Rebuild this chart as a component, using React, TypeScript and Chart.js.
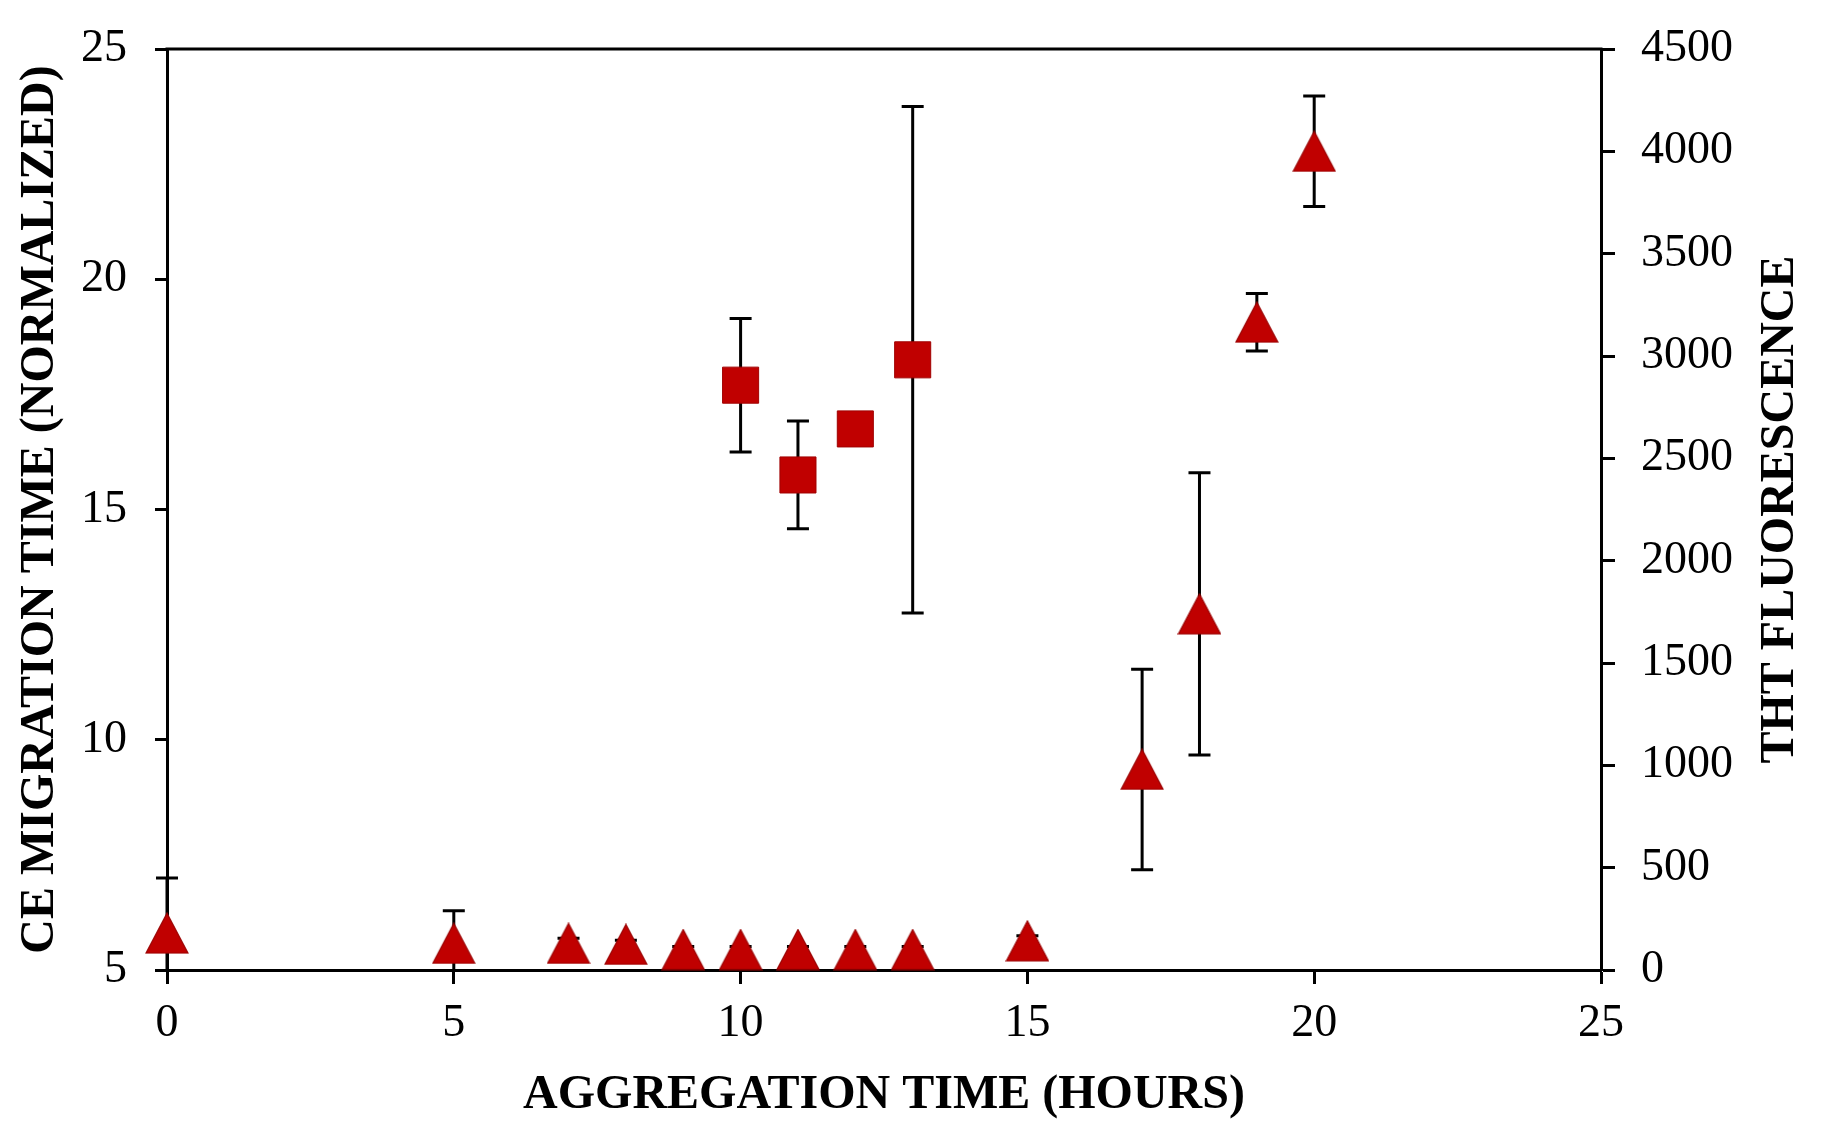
import { useEffect, useRef } from "react";
import { Chart, registerables } from "chart.js";

Chart.register(...registerables);

// CE migration time (left axis), squares
const ceHours = [10, 11, 12, 13];
const ceTime = [17.7, 15.75, 16.75, 18.25];
const ceErr = [1.45, 1.17, 0.3, 5.5];

// ThT fluorescence (right axis), triangles
const thtHours = [0, 5, 7, 8, 9, 10, 11, 12, 13, 15, 17, 18, 19, 20];
const thtFluor = [180, 130, 130, 125, 100, 100, 100, 100, 100, 142, 980, 1740, 3165, 4000];
const thtErr = [270, 160, 25, 20, 15, 15, 15, 15, 15, 25, 490, 690, 140, 270];

const xTitle = "AGGREGATION TIME (HOURS)";
const yTitle = "CE MIGRATION TIME (NORMALIZED)";
const y1Title = "THT FLUORESCENCE";

const RED = "#C00000";
const FAMILY = "'Liberation Serif', 'Times New Roman', serif";
const tickFont = { family: FAMILY, size: 46 };
const titleFont = { family: FAMILY, size: 48, weight: "bold" as const };

function makeTriangle() {
  const c = document.createElement("canvas");
  c.width = 44;
  c.height = 42;
  const g = c.getContext("2d")!;
  g.beginPath();
  g.moveTo(22, 1);
  g.lineTo(43, 41);
  g.lineTo(1, 41);
  g.closePath();
  g.fillStyle = RED;
  g.fill();
  g.strokeStyle = "#9A0000";
  g.lineWidth = 1.2;
  g.stroke();
  return c;
}

// vertical error bars, drawn under the markers
const errorBars = {
  id: "errorBars",
  beforeDatasetsDraw(chart: any) {
    const { ctx, chartArea } = chart;
    ctx.save();
    ctx.beginPath();
    ctx.rect(0, chartArea.top - 2, chart.width, chartArea.bottom - chartArea.top + 2);
    ctx.clip();
    ctx.strokeStyle = "#000";
    ctx.lineWidth = 3;
    chart.data.datasets.forEach((ds: any) => {
      const ys = chart.scales[ds.yAxisID];
      ds.data.forEach((p: any, j: number) => {
        const x = chart.scales.x.getPixelForValue(p.x);
        const hi = ys.getPixelForValue(p.y + ds.errors[j]);
        const lo = ys.getPixelForValue(p.y - ds.errors[j]);
        ctx.beginPath();
        ctx.moveTo(x, hi);
        ctx.lineTo(x, lo);
        ctx.moveTo(x - 11, hi);
        ctx.lineTo(x + 11, hi);
        ctx.moveTo(x - 11, lo);
        ctx.lineTo(x + 11, lo);
        ctx.stroke();
      });
    });
    ctx.restore();
  },
};

// top frame line and the right title (reads bottom to top)
const frame = {
  id: "frame",
  afterDraw(chart: any) {
    const { ctx, chartArea } = chart;
    ctx.save();
    ctx.strokeStyle = "#000";
    ctx.lineWidth = 3;
    ctx.beginPath();
    ctx.moveTo(chartArea.left - 1.5, chartArea.top);
    ctx.lineTo(chartArea.right + 1.5, chartArea.top);
    ctx.stroke();

    ctx.translate(chart.scales.y1.right - 42, (chartArea.top + chartArea.bottom) / 2);
    ctx.rotate(-Math.PI / 2);
    ctx.font = `bold 48px ${FAMILY}`;
    ctx.fillStyle = "#000";
    ctx.textAlign = "center";
    ctx.textBaseline = "middle";
    ctx.fillText(y1Title, 0, 0);
    ctx.restore();
  },
};

const tickGrid = (len: number) => ({
  display: true,
  drawOnChartArea: false,
  drawTicks: true,
  tickLength: len,
  tickWidth: 3,
  tickColor: "#000",
});

const plain = (v: any) => String(v);

const fixWidth = (w: number) => (s: any) => {
  s.width = w;
  s.paddingTop = 0;
  s.paddingBottom = 0;
};

const App = () => {
  const canvasRef = useRef<HTMLCanvasElement>(null);

  useEffect(() => {
    const chart = new Chart(canvasRef.current!.getContext("2d")!, {
      type: "scatter",
      data: {
        datasets: [
          {
            label: "CE",
            data: ceHours.map((x, i) => ({ x, y: ceTime[i] })),
            errors: ceErr,
            yAxisID: "y",
            pointStyle: "rect",
            pointRadius: 25.5,
            backgroundColor: RED,
            borderColor: "#A00000",
            borderWidth: 1,
            clip: false,
          } as any,
          {
            label: "ThT",
            data: thtHours.map((x, i) => ({ x, y: thtFluor[i] })),
            errors: thtErr,
            yAxisID: "y1",
            pointStyle: makeTriangle(),
            pointRadius: 22,
            backgroundColor: RED,
            borderColor: RED,
            clip: false,
          } as any,
        ],
      },
      options: {
        animation: false,
        responsive: true,
        maintainAspectRatio: false,
        layout: { padding: { top: 49, left: 0, right: 0, bottom: 0 } },
        plugins: { legend: { display: false }, tooltip: { enabled: false } },
        scales: {
          x: {
            type: "linear",
            position: "bottom",
            min: 0,
            max: 25,
            ticks: { stepSize: 5, color: "#000", font: tickFont, padding: 12, maxRotation: 0, callback: plain },
            grid: tickGrid(14),
            border: { display: true, color: "#000", width: 3 },
            title: { display: true, text: xTitle, color: "#000", font: titleFont, padding: { top: 0, bottom: 16 } },
            afterFit: (s: any) => {
              s.height = 170;
            },
          },
          y: {
            type: "linear",
            position: "left",
            min: 5,
            max: 25,
            ticks: { stepSize: 5, color: "#000", font: tickFont, padding: 28, callback: plain },
            grid: tickGrid(12),
            border: { display: true, color: "#000", width: 3 },
            title: { display: true, text: yTitle, color: "#000", font: titleFont, padding: { top: 12, bottom: 0 } },
            afterFit: fixWidth(167),
          },
          y1: {
            type: "linear",
            position: "right",
            min: 0,
            max: 4500,
            ticks: { stepSize: 500, color: "#000", font: tickFont, padding: 26, callback: plain },
            grid: tickGrid(14),
            border: { display: true, color: "#000", width: 3 },
            afterFit: fixWidth(222),
          },
        },
      },
      plugins: [errorBars, frame],
    });

    return () => chart.destroy();
  }, []);

  return (
    <div style={{ position: "fixed", left: 0, top: 0, width: 1823, height: 1140, background: "#fff" }}>
      <canvas ref={canvasRef} />
    </div>
  );
};

export default App;
